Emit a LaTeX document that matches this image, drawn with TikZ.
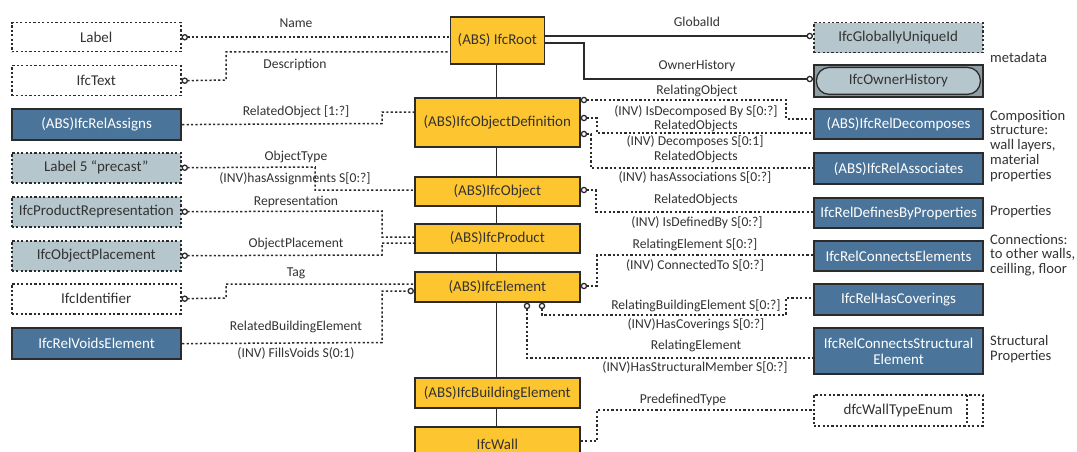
\documentclass[tikz,border=0pt]{standalone}
\usepackage{fontspec}
\setmainfont{Carlito}
\usetikzlibrary{arrows.meta}
\definecolor{ifcyellow}{HTML}{FDC52F}
\definecolor{ifcblue}{HTML}{4A7499}
\definecolor{ifcgray}{HTML}{B5C7CD}
\definecolor{ifcgraydk}{HTML}{8E9EA3}
\definecolor{ifcdark}{HTML}{2B2B2B}
\definecolor{ifctext}{HTML}{333333}
\tikzset{
  circ/.tip={Circle[open,fill=white,length=6.5pt,width=6.5pt,line width=1.3pt]},
  basebox/.style={anchor=north west,inner sep=0pt,text=ifctext,
    font=\fontsize{15}{17}\selectfont,minimum width=169pt},
  dotbox/.style={basebox,draw=ifcdark,line width=1.5pt,dash pattern=on 2.2pt off 2.2pt},
  wbox/.style={dotbox,fill=white},
  gbox/.style={dotbox,fill=ifcgray},
  bbox/.style={basebox,draw=ifcdark,line width=2.2pt,fill=ifcblue,text=white,align=center},
  ybox/.style={basebox,draw=ifcdark,line width=1.7pt,fill=ifcyellow,minimum width=165pt},
  dotline/.style={draw=ifcdark,line width=1.5pt,dash pattern=on 2.2pt off 2.2pt},
  solidline/.style={draw=ifcdark,line width=1.9pt},
  lbl/.style={inner sep=0pt,text=ifctext,font=\fontsize{13.6}{15}\selectfont},
  note/.style={anchor=north west,inner sep=0pt,text=ifctext,align=left,
    font=\fontsize{14.6}{14.7}\selectfont},
}
\begin{document}
\begin{tikzpicture}[x=1pt,y=-1pt]
\useasboundingbox (0,0) rectangle (1077,452);
\clip (0,0) rectangle (1077,452);
\fill[white] (0,0) rectangle (1077,452);

% inheritance spine
\coordinate (spinetop) at (496.5,40);
\coordinate (spinebot) at (496.5,440);
\draw[solidline] (spinetop) -- (spinebot);

% central entity chain
\node[ybox,minimum width=94pt,minimum height=47pt] (root) at (449.5,16) {(ABS) IfcRoot};
\node[ybox,minimum height=49pt] (objdef) at (414,97) {(ABS)IfcObjectDefinition};
\node[ybox,minimum height=29pt] (obj) at (414,176) {(ABS)IfcObject};
\node[ybox,minimum height=29pt] (prod) at (414,223) {(ABS)IfcProduct};
\node[ybox,minimum height=30pt] (elem) at (414,271) {(ABS)IfcElement};
\node[ybox,minimum height=30pt] (bldg) at (414,377) {(ABS)IfcBuildingElement};
\node[ybox,minimum height=34pt] (wall) at (414,426) {IfcWall};

% left column
\node[wbox,minimum height=29pt] (lab) at (11,22) {Label};
\node[wbox,minimum height=30pt] (txt) at (11,65) {IfcText};
\node[bbox,minimum height=31pt] (relassign) at (11,108) {(ABS)IfcRelAssigns};
\node[gbox,minimum height=30pt] (lab5) at (11,152) {Label 5 “precast”};
\node[gbox,minimum height=30pt] (prodrep) at (11,196) {IfcProductRepresentation};
\node[gbox,minimum height=30pt] (objplace) at (11,240) {IfcObjectPlacement};
\node[wbox,minimum height=30pt] (ident) at (11,283) {IfcIdentifier};
\node[bbox,minimum height=31pt] (voids) at (11,327) {IfcRelVoidsElement};

% right column
\node[gbox,minimum height=30pt] (guid) at (813,22) {IfcGloballyUniqueId};
\node[basebox,draw=ifcdark,line width=1.8pt,fill=ifcgraydk,minimum height=32pt,
  path picture={\draw[ifcdark,line width=1.3pt,fill=ifcgray,rounded corners=13pt]
    ([xshift=2.5pt,yshift=-2.5pt]path picture bounding box.north west) rectangle
    ([xshift=-2.5pt,yshift=2.5pt]path picture bounding box.south east);}]
  (owner) at (813,64) {IfcOwnerHistory};
\node[bbox,minimum height=30pt] (decomp) at (813,108) {(ABS)IfcRelDecomposes};
\node[bbox,minimum height=31pt] (assoc) at (813,152) {(ABS)IfcRelAssociates};
\node[bbox,minimum height=30pt] (defprop) at (813,197) {IfcRelDefinesByProperties};
\node[bbox,minimum height=30pt] (connel) at (813,240) {IfcRelConnectsElements};
\node[bbox,minimum height=31pt] (cover) at (813,283) {IfcRelHasCoverings};
\node[bbox,minimum height=46pt,font=\fontsize{15}{16}\selectfont] (connstr) at (813,327) {IfcRelConnectsStructural\\Element};
\node[wbox,minimum height=31pt,
  path picture={\draw[dotline]
    ([xshift=-16pt]path picture bounding box.north east) --
    ([xshift=-16pt]path picture bounding box.south east);}]
  (wtype) at (813,394) {dfcWallTypeEnum};

% attributes of IfcRoot
\draw[dotline,{circ}-] (lab.east) -- (root.west |- lab.east);
\draw[dotline,{circ}-] (txt.east) -- (226,80) -- (226,52) -- (root.west |- 0,52);
\draw[solidline,-{circ}] (root.east |- 0,36) -- (guid.west |- 0,36);
\draw[solidline,-{circ}] (root.east |- 0,43) -- (584,43) -- (584,79) -- (owner.west |- 0,79);

% IfcObjectDefinition relations
\draw[dotline] (relassign.east) -- (382,123.5) -- (382,112) -- (objdef.west |- 0,112);
\draw[dotline,{circ}-] (objdef.east |- 0,100) -- (786,100) -- (786,119) -- (decomp.west |- 0,119);
\draw[dotline,{circ}-] (objdef.east |- 0,118) -- (597,118) -- (597,133) -- (decomp.west |- 0,133);
\draw[dotline,{circ}-] (objdef.east |- 0,134) -- (591,134) -- (591,168) -- (assoc.west |- 0,168);

% IfcObject / IfcProduct / IfcElement relations
\draw[dotline,{circ}-] (lab5.east) -- (315,167) -- (315,190) -- (obj.west |- 0,190);
\draw[dotline,{circ}-] (obj.east |- 0,190) -- (596,190) -- (596,212) -- (defprop.west |- 0,212);
\draw[dotline,{circ}-] (prodrep.east) -- (382,211) -- (382,237) -- (prod.west |- 0,237);
\draw[dotline,{circ}-] (objplace.east) -- (382,255) -- (382,243) -- (prod.west |- 0,243);
\draw[dotline,{circ}-] (ident.east) -- (226,298) -- (226,284) -- (elem.west |- 0,284);
\draw[dotline,-{circ}] (voids.east) -- (382,342.5) -- (382,291) -- (elem.west |- 0,291);
\draw[dotline,{circ}-] (elem.east |- 0,286) -- (597,286) -- (597,255) -- (connel.west |- 0,255);
\draw[dotline,{circ}-] (elem.south -| 542,0) -- (542,315) -- (786,315) -- (786,298) -- (cover.west |- 0,298);
\draw[dotline,{circ}-] (elem.south -| 527,0) -- (527,358) -- (connstr.west |- 0,358);
\draw[dotline] (wall.east |- 0,441) -- (597,441) -- (597,410) -- (wtype.west |- 0,410);

% connector labels
\node[lbl] (tName) at (296,23) {Name};
\node[lbl] (tDesc) at (295,65) {Description};
\node[lbl] (tRelObj) at (296,112) {RelatedObject [1:?]};
\node[lbl] (tObjType) at (296,157) {ObjectType};
\node[lbl] (tHasAsg) at (295,179) {(INV)hasAssignments S[0:?]};
\node[lbl] (tRep) at (296,202) {Representation};
\node[lbl] (tPlace) at (296,244) {ObjectPlacement};
\node[lbl] (tTag) at (296,273) {Tag};
\node[lbl] (tRelBE) at (296,327) {RelatedBuildingElement};
\node[lbl] (tFills) at (296,353) {(INV) FillsVoids S(0:1)};

\node[lbl] (tGuid) at (697,22) {GlobalId};
\node[lbl] (tOwner) at (697,66) {OwnerHistory};
\node[lbl] (tRelating) at (697,91) {RelatingObject};
\node[lbl] (tIsDec) at (696,112) {(INV) IsDecomposed By S[0:?]};
\node[lbl] (tRelated1) at (696,126) {RelatedObjects};
\node[lbl] (tDec) at (695,142) {(INV) Decomposes S[0:1]};
\node[lbl] (tRelated2) at (696,157) {RelatedObjects};
\node[lbl] (tHasAssoc) at (695,177) {(INV) hasAssociations S[0:?]};
\node[lbl] (tRelated3) at (696,200) {RelatedObjects};
\node[lbl] (tDefBy) at (697,223) {(INV) IsDefinedBy S[0:?]};
\node[lbl] (tRelEl) at (695,245) {RelatingElement S[0:?]};
\node[lbl] (tConnTo) at (695,265) {(INV) ConnectedTo S[0:?]};
\node[lbl] (tRelBldg) at (696,306) {RelatingBuildingElement S[0:?]};
\node[lbl] (tHasCov) at (696,325) {(INV)HasCoverings S[0:?]};
\node[lbl] (tRelEl2) at (696,346) {RelatingElement};
\node[lbl] (tHasStr) at (695,367) {(INV)HasStructuralMember S[0:?]};
\node[lbl] (tPredef) at (683,400) {PredefinedType};

% side notes
\node[note] (nMeta) at (990,52) {metadata};
\node[note] (nComp) at (990,110) {Composition\\structure:\\wall layers,\\material\\properties};
\node[note] (nProps) at (990,205) {Properties};
\node[note] (nConn) at (990,234) {Connections:\\to other walls,\\ceilling, floor};
\node[note] (nStruct) at (990,335) {Structural\\Properties};
\end{tikzpicture}
\end{document}
